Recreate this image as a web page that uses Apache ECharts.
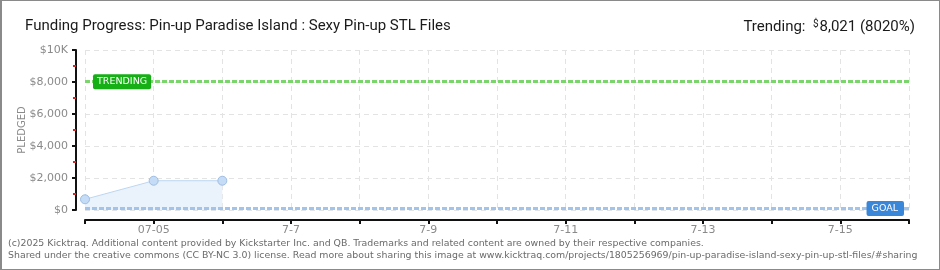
<!DOCTYPE html>
<html>
<head>
<meta charset="utf-8">
<script src="https://cdn.jsdelivr.net/npm/echarts@6/dist/echarts.min.js"></script>
<style>
html,body{margin:0;padding:0;background:#fff;}
#wrap{width:940px;height:270px;box-sizing:border-box;border:1px solid #8a8a8a;border-left:2px solid #8a8a8a;position:relative;overflow:hidden;}
#chart{position:absolute;left:-2px;top:-1px;width:940px;height:270px;}
</style>
</head>
<body>
<div id="wrap"><div id="chart"></div></div>
<script>
const categories = ['07-04','07-05','07-06','7-7','7-8','7-9','7-10','7-11','7-12','7-13','7-14','7-15','7-16'];
const pledged = [670, 1830, 1830, null, null, null, null, null, null, null, null, null, null];
const trendingValue = 8021;
const goalValue = 100;
const yTicks = [0, 2000, 4000, 6000, 8000, 10000];
const yTickLabels = ['$0', '$2,000', '$4,000', '$6,000', '$8,000', '$10K'];
const titleText = 'Funding Progress: Pin-up Paradise Island : Sexy Pin-up STL Files';
const trendingText = ['Trending:  ', '$', '8,021 (8020%)'];
const footer1 = '(c)2025 Kicktraq. Additional content provided by Kickstarter Inc. and QB. Trademarks and related content are owned by their respective companies.';
const footer2 = 'Shared under the creative commons (CC BY-NC 3.0) license. Read more about sharing this image at www.kicktraq.com/projects/1805256969/pin-up-paradise-island-sexy-pin-up-stl-files/#sharing';

const chart = echarts.init(document.getElementById('chart'), null, {renderer: 'canvas'});
const dotted = (color) => ({color: color, width: 3, type: [5, 2]});
const TF = 'Roboto';

chart.setOption({
  animation: false,
  textStyle: {fontFamily: 'DejaVu Sans'},
  grid: {left: 85, right: 31, top: 50, bottom: 60},
  title: [
    {text: titleText, left: 20, top: 14, textStyle: {fontFamily: TF, fontSize: 15, fontWeight: 'normal', color: '#1a1a1a'}},
    {text: '{a|' + trendingText[0] + '}{b|' + trendingText[1] + '}{a|' + trendingText[2] + '}', right: 20, top: 14,
     textStyle: {fontWeight: 'normal', rich: {
       a: {fontFamily: TF, fontSize: 15, fontWeight: 'normal', color: '#1a1a1a'},
       b: {fontFamily: TF, fontSize: 10, fontWeight: 'normal', color: '#1a1a1a', verticalAlign: 'top', padding: [0,1,6,0]}
     }}}
  ],
  graphic: [
    {type: 'text', left: 8, top: 239, style: {text: footer1, font: '9.4px "DejaVu Sans"', fill: '#6a6a6a'}},
    {type: 'text', left: 8, top: 251, style: {text: footer2, font: '9.4px "DejaVu Sans"', fill: '#6a6a6a'}}
  ],
  xAxis: {
    type: 'category',
    data: categories,
    boundaryGap: false,
    offset: 10,
    axisLine: {onZero: false, lineStyle: {color: '#111', width: 2}},
    axisTick: {show: true, interval: 0, length: 4, lineStyle: {color: '#111', width: 2}},
    axisLabel: {interval: (i) => i % 2 === 1, color: '#8a8a8a', fontSize: 11, margin: 5, fontFamily: 'DejaVu Sans'},
    splitLine: {show: true, interval: 0, lineStyle: {color: '#e3e3e3', type: [5, 4], width: 1}}
  },
  yAxis: {
    type: 'value',
    min: 0, max: 10000, interval: 2000,
    offset: 9,
    name: 'PLEDGED',
    nameLocation: 'middle',
    nameGap: 49,
    nameMoveOverlap: false,
    nameTextStyle: {color: '#8a8a8a', fontSize: 10, fontFamily: 'DejaVu Sans'},
    axisLine: {show: true, onZero: false, lineStyle: {color: '#111', width: 2}},
    axisTick: {show: true, length: 4, lineStyle: {color: '#111', width: 2}},
    minorTick: {show: true, splitNumber: 2, length: 3, lineStyle: {color: '#e02020', width: 2}},
    axisLabel: {color: '#8a8a8a', fontSize: 11, margin: 8, fontFamily: 'DejaVu Sans',
      formatter: (v) => { const i = yTicks.indexOf(v); return i >= 0 ? yTickLabels[i] : ''; }},
    splitLine: {show: true, lineStyle: {color: '#e3e3e3', type: [5, 4], width: 1}}
  },
  series: [
    {
      type: 'line',
      data: pledged,
      symbol: 'circle',
      symbolSize: 9,
      showSymbol: true,
      connectNulls: false,
      lineStyle: {color: '#bcd6f2', width: 1},
      itemStyle: {color: '#c4dcf6', borderColor: '#9fbde2', borderWidth: 1},
      areaStyle: {color: '#eaf3fc', opacity: 1},
      z: 3
    },
    {
      type: 'line',
      data: [],
      z: 4,
      markLine: {
        silent: true, symbol: 'none',
        label: {show: false},
        data: [
          {yAxis: trendingValue, lineStyle: dotted('#7ad66b')},
          {yAxis: goalValue, lineStyle: dotted('#a2c4ea')}
        ]
      },
      markPoint: {
        silent: true,
        symbol: 'rect', symbolSize: 0,
        data: [
          {coord: [0, trendingValue], label: {show: true, formatter: 'TRENDING', position: 'right', distance: 8,
            backgroundColor: '#16b016', color: '#fff', fontSize: 9.5, fontFamily: 'DejaVu Sans', padding: [3, 4, 2, 4], borderRadius: 2}},
          {coord: [categories.length - 1, goalValue], label: {show: true, formatter: 'GOAL', position: 'left', distance: 5,
            backgroundColor: '#3a86d8', color: '#fff', fontSize: 9.5, fontFamily: 'DejaVu Sans', padding: [3, 6, 2, 5], borderRadius: 2}}
        ]
      }
    }
  ]
});
</script>
</body>
</html>
